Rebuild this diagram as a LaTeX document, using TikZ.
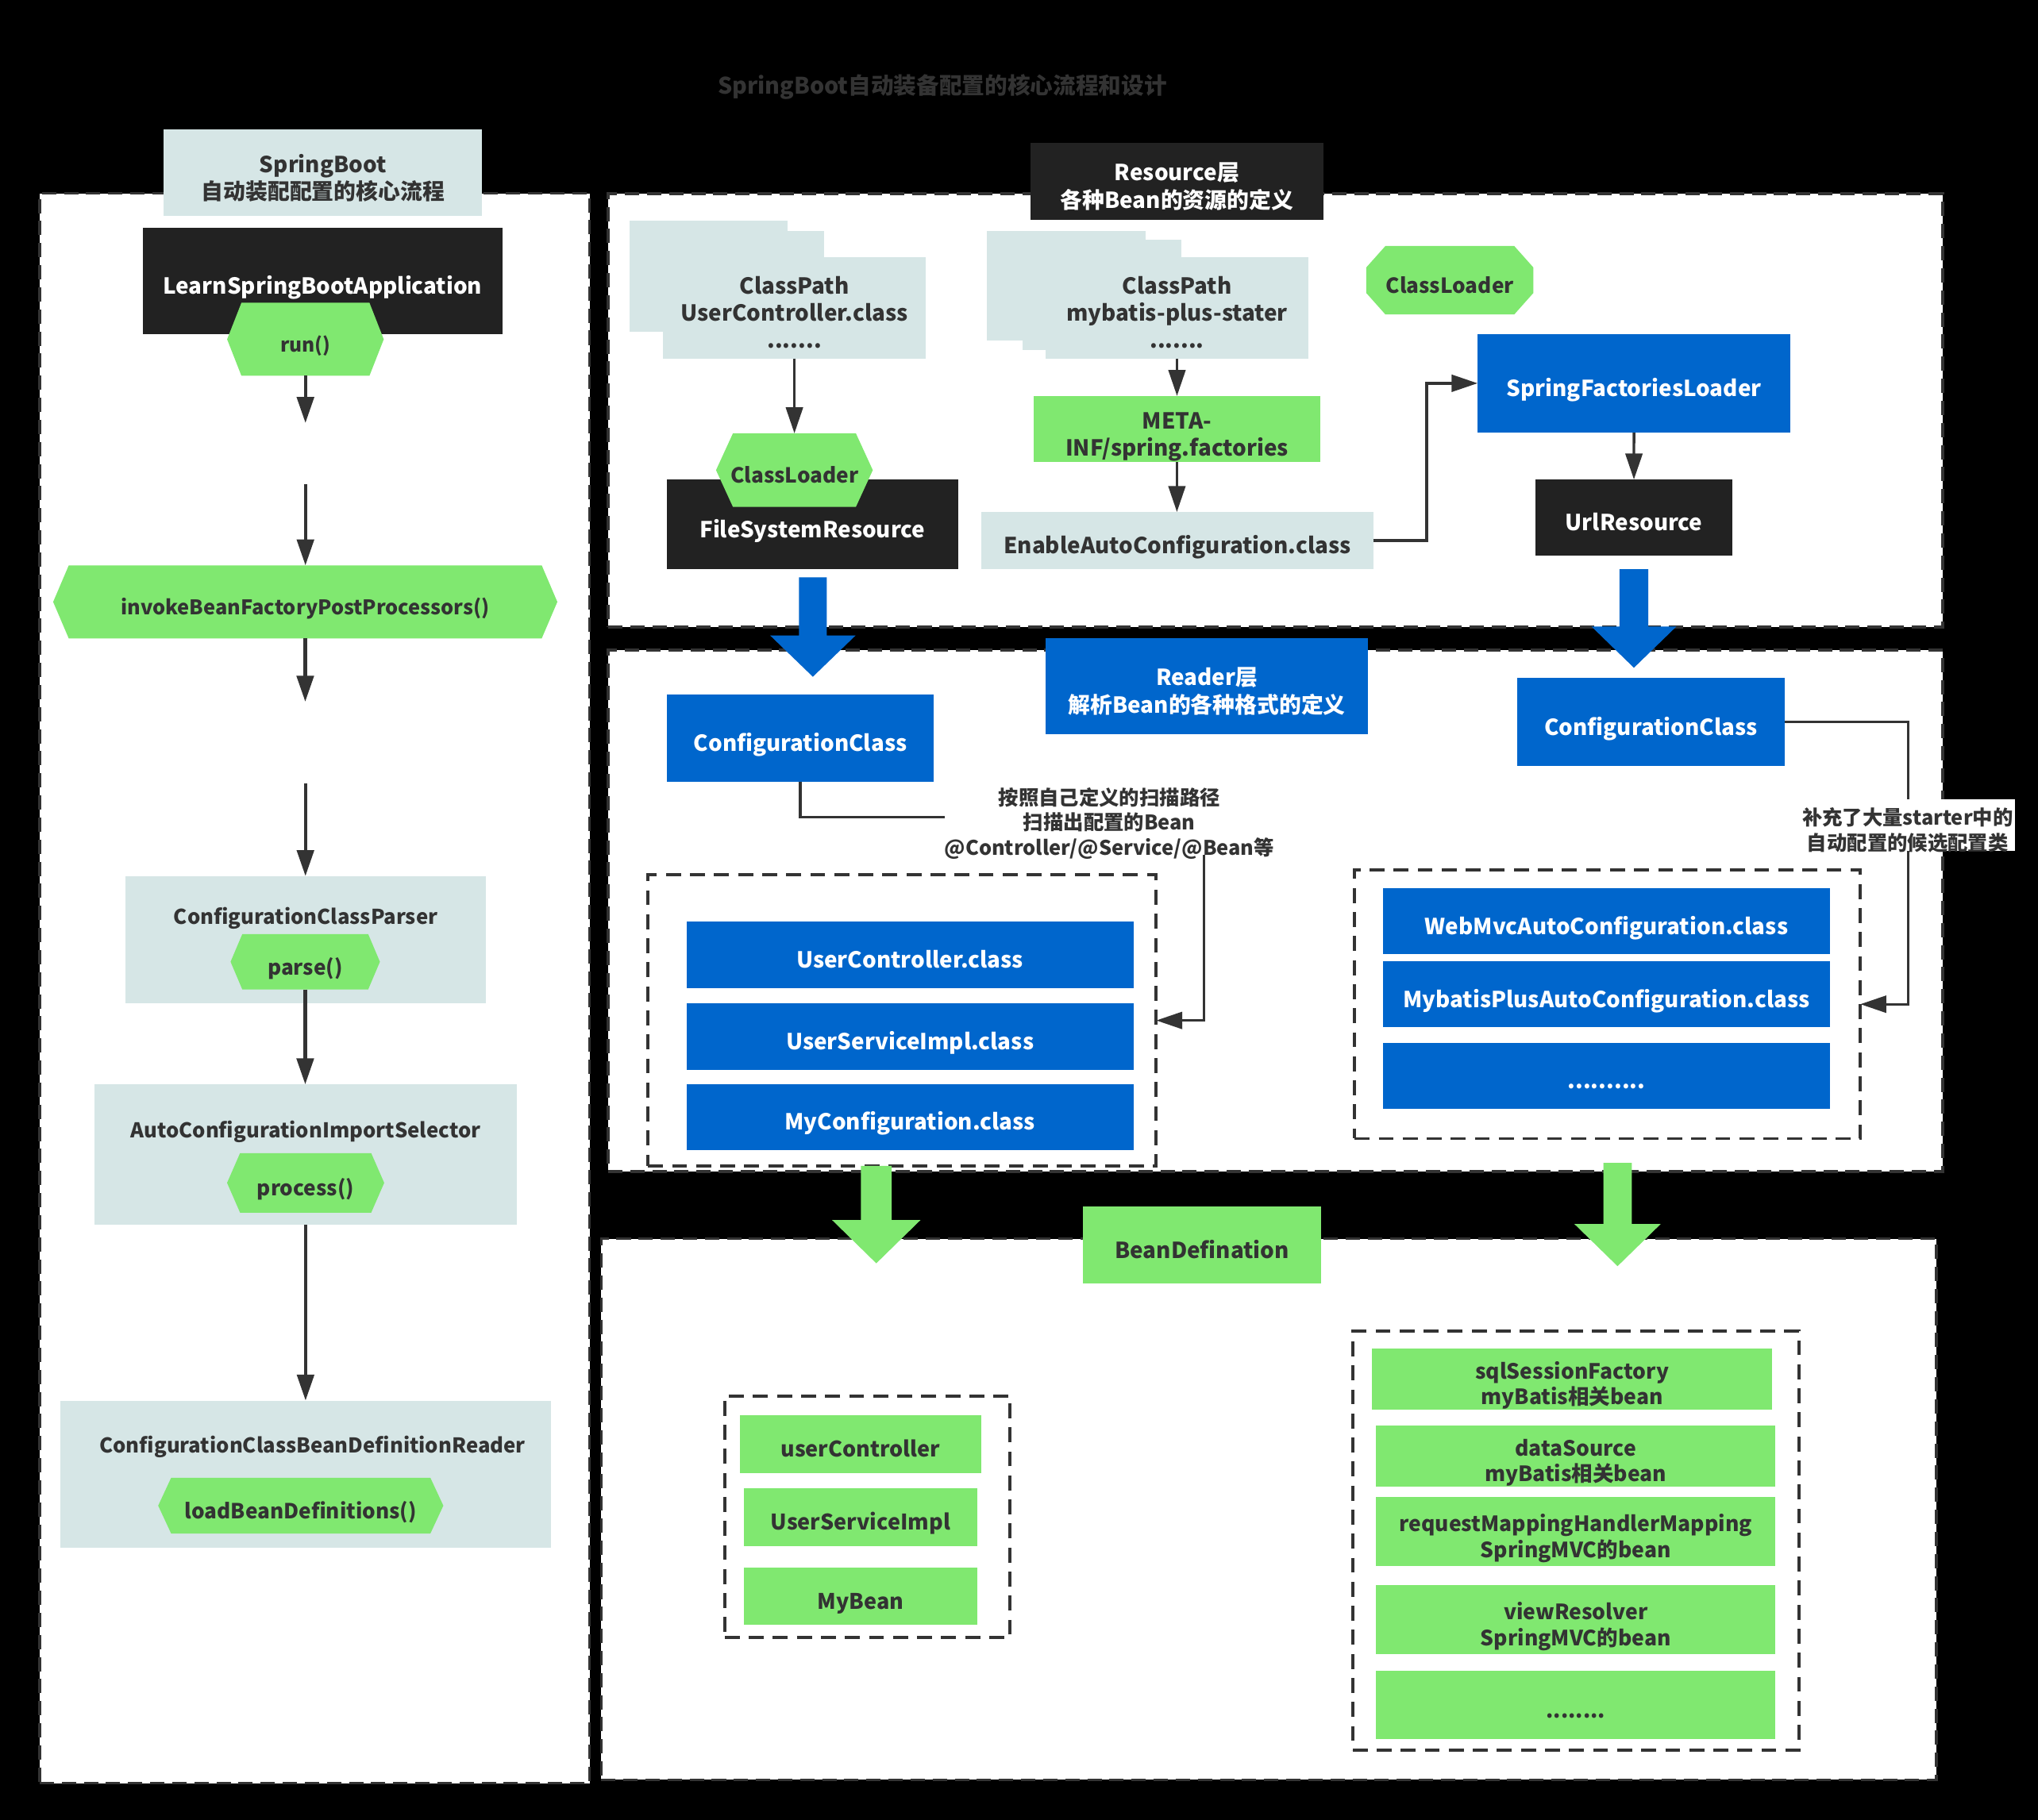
\documentclass[tikz,border=0pt]{standalone}
\usepackage{fontspec}
\usepackage{calc}
\setmainfont{Noto Sans CJK SC}
\usetikzlibrary{arrows.meta}
\definecolor{lb}{HTML}{D6E6E6}
\definecolor{gr}{HTML}{80E870}
\definecolor{bl}{HTML}{0066CC}
\definecolor{dk}{HTML}{222222}
\definecolor{tx}{HTML}{333333}
\newcommand\fsz[2]{\bfseries\fontsize{#1}{#2}\selectfont}
\newcommand\T[1]{\raisebox{-3pt}[\height+3pt][\depth-3pt]{\begin{tabular}{@{}c@{}}#1\end{tabular}}}
\newcommand\blkarrow[7]{\fill[#1] ({#2-#6},#3) -- ({#2+#6},#3) -- ({#2+#6},#4) -- ({#2+#7},#4) -- (#2,#5) -- ({#2-#7},#4) -- ({#2-#6},#4) -- cycle;}
\tikzset{
  every node/.style={inner sep=0pt, outer sep=0pt, font=\fsz{17}{21}},
  sz/.style 2 args={minimum width=#1, minimum height=#2},
  lbox/.style={fill=lb, text=tx},
  gbox/.style={fill=gr, text=tx},
  bbox/.style={fill=bl, text=white},
  kbox/.style={fill=dk, text=white},
  txt/.style={text=tx},
  panel/.style={draw=tx, fill=white, line width=2.2pt, dash pattern=on 11pt off 6pt},
  dbox/.style={draw=tx, line width=2.4pt, dash pattern=on 11.5pt off 7pt},
  arr/.style={draw=tx, line width=2.6pt, -{Triangle[length=20pt,width=13pt]}},
  arrb/.style={draw=tx, line width=2pt, -{Triangle[length=20pt,width=13pt]}},
  conn/.style={draw=tx, line width=2pt},
  hexa/.style={fill=white, fill opacity=0, text opacity=1, text=tx,
    path picture={\fill[gr, fill opacity=1] (path picture bounding box.west)
      -- ([xshift=#1]path picture bounding box.north west)
      -- ([xshift=-#1]path picture bounding box.north east)
      -- (path picture bounding box.east)
      -- ([xshift=-#1]path picture bounding box.south east)
      -- ([xshift=#1]path picture bounding box.south west) -- cycle;}},
  octa/.style={fill=white, fill opacity=0, text opacity=1, text=tx,
    path picture={\fill[gr, fill opacity=1] ([yshift=-16.5]path picture bounding box.north west)
      -- ([xshift=14.7]path picture bounding box.north west)
      -- ([xshift=-14.7]path picture bounding box.north east)
      -- ([yshift=-16.5]path picture bounding box.north east)
      -- ([yshift=16.5]path picture bounding box.south east)
      -- ([xshift=-14.7]path picture bounding box.south east)
      -- ([xshift=14.7]path picture bounding box.south west)
      -- ([yshift=16.5]path picture bounding box.south west) -- cycle;}}
}
\begin{document}
\begin{tikzpicture}[x=1pt,y=-1pt]
\fill[black] (0,0) rectangle (1568,1400.6);
\useasboundingbox (0,0) rectangle (1568,1400.6);

% title
\node[txt, font=\fsz{17.5}{21}] (title) at (725,62) {\T{SpringBoot自动装备配置的核心流程和设计}};

% panels
\node[panel, sz={423.1}{1223.5}] (lp) at (242.05,760.55) {};
\node[panel, sz={1026.8}{333.4}] (resp) at (981.2,315.9) {};
\node[panel, sz={1026.8}{401.1}] (rdp) at (981.2,700.85) {};
\node[panel, sz={1027.1}{416.5}] (bdp) at (976.15,1161.45) {};

% ---------- left column ----------
\node[lbox, sz={245}{66.5}] (hdr) at (248.5,133) {\T{SpringBoot\\自动装配配置的核心流程}};
\node[kbox, sz={276.4}{81.3}, font=\fsz{17}{21}] (app) at (248.2,216.2) {\T{LearnSpringBootApplication}};
\node[hexa=11, sz={120.5}{56.2}, font=\fsz{15}{18}] (run) at (235,261.1) {\T{run()}};
\coordinate (g1) at (235,325.5);
\coordinate (g2) at (235,372.4);
\node[hexa=12, sz={387.9}{56.2}, font=\fsz{15.5}{19}] (inv) at (234.85,463.2) {\T{invokeBeanFactoryPostProcessors()}};
\coordinate (g3) at (235,540);
\coordinate (g4) at (235,602.7);
\node[lbox, sz={277.5}{98.1}] (ccp) at (235.25,723.25) {};
\node[txt, font=\fsz{15.7}{20}] (ccpt) at (235.25,701.5) {\T{ConfigurationClassParser}};
\node[hexa=9, sz={114.9}{42.5}, font=\fsz{16}{20}] (parse) at (234.85,740.15) {\T{parse()}};
\node[lbox, sz={325.2}{108}] (acis) at (235.1,888.5) {};
\node[txt, font=\fsz{15.7}{20}] (acist) at (235.1,865.5) {\T{AutoConfigurationImportSelector}};
\node[hexa=10, sz={120.9}{45.8}, font=\fsz{16}{20}] (proc) at (235.15,910.3) {\T{process()}};
\node[lbox, sz={377.8}{113.4}] (ccb) at (235.1,1134.5) {};
\node[txt, font=\fsz{15.7}{20}] (ccbt) at (240.4,1108) {\T{ConfigurationClassBeanDefinitionReader}};
\node[hexa=10, sz={219.4}{43}, font=\fsz{16}{20}] (load) at (231.4,1158.7) {\T{loadBeanDefinitions()}};

\draw[arr] (run.south) -- (run.south |- g1);
\draw[arr] (g2) -- (g2 |- inv.north);
\draw[arr] (inv.south) -- (inv.south |- g3);
\draw[arr] (g4) -- (g4 |- ccp.north);
\draw[arr] (parse.south) -- (parse.south |- acis.north);
\draw[arr] (acis.south) -- (acis.south |- ccb.north);

% ---------- Resource layer ----------
\node[kbox, sz={225}{59}] (res) at (905.5,139.5) {\T{Resource层\\各种Bean的资源的定义}};
\fill[lb] (484.2,169.7) rectangle (605.9,255.1);
\fill[lb] (495,177.5) rectangle (634,250);
\node[lbox, sz={202}{77.9}, font=\fsz{17}{20.7}] (cp1) at (611.2,236.95) {\T{ClassPath\\UserController.class\\.......}};
\fill[lb] (759.5,177.5) rectangle (881.5,262.3);
\fill[lb] (786.8,184.4) rectangle (908.9,269.5);
\node[lbox, sz={202.3}{77.9}, font=\fsz{17}{20.7}] (cp2) at (905.55,236.95) {\T{ClassPath\\mybatis-plus-stater\\.......}};

\node[kbox, sz={224.1}{68.9}] (fsr) at (625.05,403.45) {\T{FileSystemResource}};
\node[hexa=13, sz={120.6}{56.6}, font=\fsz{16}{20}] (cl1) at (611.2,361.8) {\T{ClassLoader}};
\draw[arrb] (cp1.south) -- (cp1.south |- cl1.north);

\node[gbox, sz={221}{50.9}] (meta) at (905.5,330.15) {\T{META-\\INF/spring.factories}};
\node[lbox, sz={301.5}{44}] (eac) at (905.75,416) {\T{EnableAutoConfiguration.class}};
\draw[arrb] (cp2.south) -- (cp2.south |- meta.north);
\draw[arrb] (meta.south) -- (meta.south |- eac.north);

\node[octa, sz={128.5}{52.7}, font=\fsz{16}{20}] (cl2) at (1115.45,215.65) {\T{ClassLoader}};
\node[bbox, sz={240.7}{76.1}] (sfl) at (1257.15,294.95) {\T{SpringFactoriesLoader}};
\draw[arrb] (eac.east) -- ++(41.2,0) |- (sfl.west);
\node[kbox, sz={151.8}{58.4}] (url) at (1257.1,398.2) {\T{UrlResource}};
\draw[arrb] (sfl.south) -- (url.north);

% ---------- Reader layer ----------
\node[bbox, sz={248.3}{73.7}] (rdr) at (928.55,527.95) {\T{Reader层\\解析Bean的各种格式的定义}};
\node[bbox, sz={205.5}{67.3}] (cc1) at (615.75,568.15) {\T{ConfigurationClass}};
\node[txt, font=\fsz{15.5}{19.3}] (lb1) at (853.5,629) {\T{按照自己定义的扫描路径\\扫描出配置的Bean\\@Controller/@Service/@Bean等}};
\node[dbox, sz={391}{223.8}] (db1) at (694.1,785.3) {};
\node[bbox, sz={344}{51.3}] (uc) at (700.1,734.95) {\T{UserController.class}};
\node[bbox, sz={344}{51.7}] (usi) at (700.1,797.65) {\T{UserServiceImpl.class}};
\node[bbox, sz={344}{51}] (myc) at (700.1,859.6) {\T{MyConfiguration.class}};
\draw[conn] (cc1.south) |- (lb1.west);
\draw[arrb] ([xshift=72.9]lb1.south) |- (db1.east);

\node[bbox, sz={205.7}{67.9}] (cc2) at (1270.15,555.55) {\T{ConfigurationClass}};
\node[dbox, sz={389.1}{206.8}] (db2) at (1236.75,772.8) {};
\node[bbox, sz={344}{51.1}] (wmv) at (1236,708.95) {\T{WebMvcAutoConfiguration.class}};
\node[bbox, sz={344}{51}] (mpa) at (1236,765.1) {\T{MybatisPlusAutoConfiguration.class}};
\node[bbox, sz={344}{50.7}] (dt1) at (1236,827.75) {\T{..........}};
\draw[arrb] (cc2.east) -- ++(95.3,0) |- (db2.east);
\node[fill=white, text=tx, sz={164.6}{39.3}, font=\fsz{15.5}{19.3}] (lb2) at (1467.7,635) {\T{补充了大量starter中的\\自动配置的候选配置类}};

% ---------- BeanDefination ----------
\node[gbox, sz={182.9}{58.9}] (bd) at (924.75,957.95) {\T{BeanDefination}};
\node[dbox, sz={219.5}{186.2}] (db3) at (667.35,1167.3) {};
\node[gbox, sz={185.2}{44.3}, font=\fsz{16.5}{20}] (b1) at (662.1,1111.25) {\T{userController}};
\node[gbox, sz={179.6}{44.4}, font=\fsz{16.5}{20}] (b2) at (662.1,1167.6) {\T{UserServiceImpl}};
\node[gbox, sz={179.6}{43.8}, font=\fsz{16.5}{20}] (b3) at (662.1,1228.4) {\T{MyBean}};
\node[dbox, sz={343.6}{322.4}] (db4) at (1212.5,1185.6) {};
\node[gbox, sz={307.4}{47.2}, font=\fsz{16.2}{19.6}] (r1) at (1209.5,1061.3) {\T{sqlSessionFactory\\myBatis相关bean}};
\node[gbox, sz={307}{46.9}, font=\fsz{16.2}{19.6}] (r2) at (1212.3,1120.45) {\T{dataSource\\myBatis相关bean}};
\node[gbox, sz={307}{53.2}, font=\fsz{16.2}{19.6}] (r3) at (1212.3,1178.7) {\T{requestMappingHandlerMapping\\SpringMVC的bean}};
\node[gbox, sz={307}{53.2}, font=\fsz{16.2}{19.6}] (r4) at (1212.3,1246.5) {\T{viewResolver\\SpringMVC的bean}};
\node[gbox, sz={307}{52.8}, font=\fsz{16.2}{19.6}] (r5) at (1212.3,1312.2) {\T{........}};

% ---------- block arrows ----------
\blkarrow{bl}{625.4}{444.3}{489.1}{520.8}{10.7}{32.8}
\blkarrow{bl}{1257.1}{438}{482.2}{513.9}{11.1}{32.6}
\blkarrow{gr}{674.2}{897.2}{938.9}{972.2}{11.8}{34}
\blkarrow{gr}{1244.5}{895}{942}{974.4}{10.9}{33.15}
\end{tikzpicture}
\end{document}
